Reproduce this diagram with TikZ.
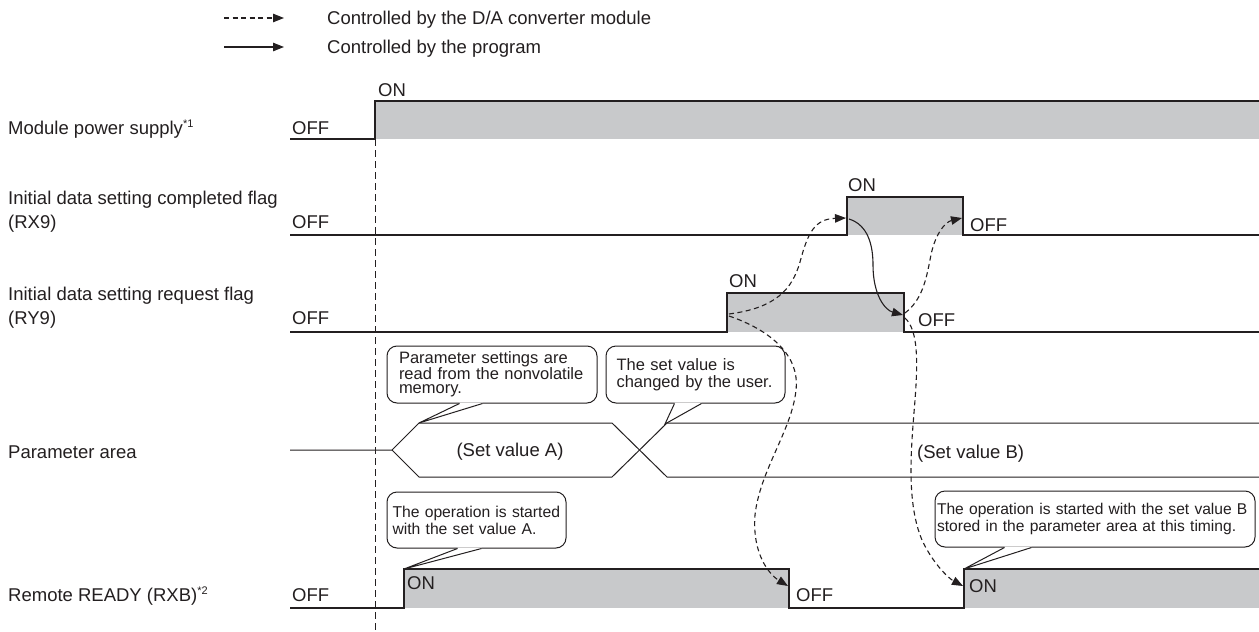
\documentclass[tikz,border=0pt]{standalone}
\usepackage{fontspec}
\setmainfont{Liberation Sans}
\usetikzlibrary{arrows.meta}
\definecolor{sigfill}{HTML}{C8C9CB}
\definecolor{ink}{HTML}{231F20}
\newcommand\supmark[1]{\raisebox{7pt}{\fontsize{11}{11}\selectfont #1}}
\begin{document}
\begin{tikzpicture}[x=1pt,y=-1pt,
  wave/.style={draw=ink,line width=1.2pt},
  lbl/.style={font=\fontsize{18.5}{24}\selectfont,text=ink,inner sep=0pt,anchor=base west},
  ctr/.style={font=\fontsize{18.5}{24}\selectfont,text=ink,inner sep=0pt,anchor=base},
  callbox/.style={draw=ink,line width=1pt,fill=white,rounded corners=10pt,inner sep=0pt,align=left,font=\fontsize{15.7}{17}\selectfont,text=ink},
  tipA/.style={-{Triangle[length=11pt,width=8.5pt]}},
  dflow/.style={draw=ink,line width=1.1pt,dash pattern=on 5pt off 3.5pt,tipA},
  pflow/.style={draw=ink,line width=1.1pt,tipA},
  guide/.style={draw=ink,line width=0.8pt,dash pattern=on 7pt off 4pt},
  ptr/.style={draw=ink,line width=1pt}
]
\useasboundingbox (0,0) rectangle (1259,632);
\fill[white] (0,0) rectangle (1259,632);

% legend
\coordinate (ld1) at (224,18); \coordinate (ld2) at (284,18);
\draw[dflow] (ld1) -- (ld2);
\node[lbl] (legd) at (327,24.5) {Controlled by the D/A converter module};
\coordinate (lp1) at (224,47); \coordinate (lp2) at (284,47);
\draw[pflow] (lp1) -- (lp2);
\node[lbl] (legp) at (327,53.5) {Controlled by the program};

% row labels
\node[lbl] (lbpow) at (8,134) {Module power supply\supmark{*1}};
\node[lbl] (lbcf1) at (8,204.5) {Initial data setting completed flag};
\node[lbl] (lbcf2) at (8,228.5) {(RX9)};
\node[lbl] (lbrq1) at (8,300) {Initial data setting request flag};
\node[lbl] (lbrq2) at (8,324) {(RY9)};
\node[lbl] (lbpar) at (8,458.5) {Parameter area};
\node[lbl] (lbrdy) at (8,601) {Remote READY (RXB)\supmark{*2}};

% module power supply
\fill[sigfill] (375,101) rectangle (1259,139);
\draw[wave] (290,139) -- (375,139) -- (375,101) -- (1259,101);
\node[lbl] (off1) at (292,134) {OFF};
\node[lbl] (on1) at (378,96.5) {ON};

% RX9
\fill[sigfill] (847,197) rectangle (963,235);
\draw[wave] (290,235) -- (847,235) -- (847,197) -- (963,197) -- (963,235) -- (1259,235);
\node[lbl] (off2) at (292,228.5) {OFF};
\node[lbl] (on2) at (848,191) {ON};
\node[lbl] (off2b) at (970,231.5) {OFF};

% RY9
\fill[sigfill] (727,293) rectangle (904,332);
\draw[wave] (290,332) -- (727,332) -- (727,293) -- (904,293) -- (904,332) -- (1259,332);
\node[lbl] (off3) at (292,324) {OFF};
\node[lbl] (on3) at (729,287.5) {ON};
\node[lbl] (off3b) at (918,326.5) {OFF};

% parameter area
\draw[wave,line width=1pt] (290,450) -- (392,450) -- (419,423) -- (612,423) -- (667,477) -- (1259,477);
\draw[wave,line width=1pt] (392,450) -- (419,477) -- (612,477) -- (667,423) -- (1259,423);
\node[ctr] (sva) at (510,456.5) {(Set value A)};
\node[lbl] (svb) at (917,458.5) {(Set value B)};

% remote READY
\fill[sigfill] (404,569) rectangle (789,608);
\fill[sigfill] (964,569) rectangle (1259,608);
\draw[wave] (290,608) -- (404,608) -- (404,569) -- (789,569) -- (789,608) -- (964,608) -- (964,569) -- (1259,569);
\node[lbl] (off4) at (292,601) {OFF};
\node[lbl] (on4) at (407,589.5) {ON};
\node[lbl] (off4b) at (796,601.5) {OFF};
\node[lbl] (on4b) at (969,592.5) {ON};

% guide line
\coordinate (g1) at (375,139); \coordinate (g2) at (375,632);
\draw[guide] (g1) -- (g2);

% callouts
\node[callbox,font=\fontsize{16.5}{14}\selectfont,minimum width=210pt,minimum height=57pt,text width=186pt] (c1) at (492,374.5) {Parameter settings are\\read from the nonvolatile\\memory.};
\node[callbox,font=\fontsize{16.5}{17}\selectfont,minimum width=179pt,minimum height=57pt,text width=158pt] (c2) at (695.5,374.5) {The set value is\\changed by the user.};
\node[callbox,minimum width=179pt,minimum height=56pt,text width=168pt] (c3) at (476.5,520) {The operation is started\\with the set value A.};
\node[callbox,font=\fontsize{15.6}{17}\selectfont,minimum width=320pt,minimum height=56pt,text width=316pt] (c4) at (1095,519) {The operation is started with the set value B\\stored in the parameter area at this timing.};

\coordinate (c1a) at ([xshift=73pt]c1.south west);
\coordinate (c1b) at ([xshift=96pt]c1.south west);
\coordinate (c1t) at (419,423);
\fill[white] (c1a) -- (c1t) -- (c1b) -- ([yshift=0.8pt]c1b) -- ([yshift=0.8pt]c1a) -- cycle;
\draw[ptr] (c1a) -- (c1t) -- (c1b);

\coordinate (c2a) at ([xshift=69pt]c2.south west);
\coordinate (c2b) at ([xshift=96pt]c2.south west);
\coordinate (c2t) at (665,424);
\fill[white] (c2a) -- (c2t) -- (c2b) -- ([yshift=0.8pt]c2b) -- ([yshift=0.8pt]c2a) -- cycle;
\draw[ptr] (c2a) -- (c2t) -- (c2b);

\coordinate (c3a) at ([xshift=71pt]c3.south west);
\coordinate (c3b) at ([xshift=95pt]c3.south west);
\coordinate (c3t) at (404,569);
\fill[white] (c3a) -- (c3t) -- (c3b) -- ([yshift=0.8pt]c3b) -- ([yshift=0.8pt]c3a) -- cycle;
\draw[ptr] (c3a) -- (c3t) -- (c3b);

\coordinate (c4a) at ([xshift=70pt]c4.south west);
\coordinate (c4b) at ([xshift=97pt]c4.south west);
\coordinate (c4t) at (964,569);
\fill[white] (c4a) -- (c4t) -- (c4b) -- ([yshift=0.8pt]c4b) -- ([yshift=0.8pt]c4a) -- cycle;
\draw[ptr] (c4a) -- (c4t) -- (c4b);

% flow arrows
\coordinate (ry9on) at (729,314);
\coordinate (ry9onb) at (729,316);
\coordinate (rx9on) at (846,218);
\coordinate (rx9onb) at (849,219);
\coordinate (ry9off) at (903,315);
\coordinate (ry9offa) at (905,313);
\coordinate (ry9offb) at (905,318);
\coordinate (rx9off) at (962,218);
\coordinate (rdyoff) at (788,586);
\coordinate (rdyon) at (963,586);

\draw[dflow] (ry9on) .. controls (775,308) and (792,290) .. (800,262) .. controls (808,232) and (815,219) .. (rx9on);
\draw[dflow] (ry9onb) .. controls (770,330) and (800,355) .. (796,390) .. controls (792,430) and (760,470) .. (755,515) .. controls (752,555) and (770,575) .. (rdyoff);
\draw[pflow] (rx9onb) .. controls (868,225) and (873,245) .. (873,265) .. controls (873,295) and (885,310) .. (ry9off);
\draw[dflow] (ry9offa) .. controls (922,300) and (926,280) .. (930,260) .. controls (934,235) and (945,222) .. (rx9off);
\draw[dflow] (ry9offb) .. controls (918,330) and (918,360) .. (915,400) .. controls (912,440) and (905,500) .. (922,540) .. controls (932,562) and (948,578) .. (rdyon);
\end{tikzpicture}
\end{document}
